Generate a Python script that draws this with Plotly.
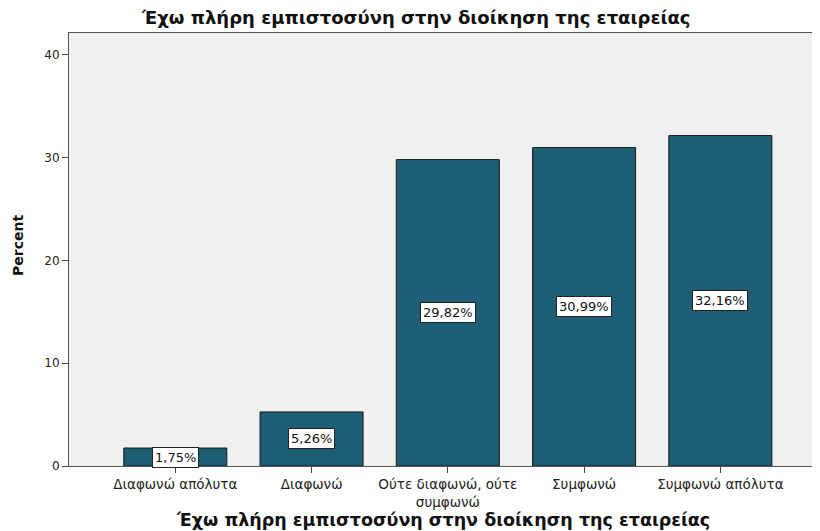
import plotly.graph_objects as go

categories = ["Διαφωνώ απόλυτα", "Διαφωνώ", "Ούτε διαφωνώ, ούτε<br>συμφωνώ", "Συμφωνώ", "Συμφωνώ απόλυτα"]
percents = [1.75, 5.26, 29.82, 30.99, 32.16]
labels = ["1,75%", "5,26%", "29,82%", "30,99%", "32,16%"]
y_ticks = [0, 10, 20, 30, 40]

TITLE = "Έχω πλήρη εμπιστοσύνη στην διοίκηση της εταιρείας"
BAR = "#1d5e75"
DV = "DejaVu Sans, Verdana"

# page body has an 8px margin, so everything is placed 8px up/left
OFF = 8
W, H = 820, 531
L, R, T, B = 69 - OFF, 0, 33 - OFF, 531 - 466 + OFF
pw, ph = W - L - R, H - T - B


def px_to_paper(x, y):
    return (x - OFF - L) / pw, (H - B - (y - OFF)) / ph


fig = go.Figure(
    go.Bar(
        x=list(range(len(categories))),
        y=percents,
        width=0.756,
        marker=dict(color=BAR, line=dict(color="#1a1a1a", width=1)),
        hoverinfo="skip",
    )
)

for i, (v, lab) in enumerate(zip(percents, labels)):
    fig.add_annotation(
        x=i, y=v / 2, text=lab, showarrow=False,
        font=dict(family=DV, size=13, color="#111"),
        bgcolor="white", bordercolor="#222", borderwidth=1, borderpad=2,
    )


def text_at(x, y, text, size, angle=0):
    px, py = px_to_paper(x, y)
    fig.add_annotation(
        x=px, y=py, xref="paper", yref="paper", xanchor="center", yanchor="middle",
        text=text, showarrow=False, textangle=angle,
        font=dict(family=DV, size=size, color="#111"),
    )


text_at(415, 18, "<b>" + TITLE + "</b>", 18)
text_at(443, 520, "<b>" + TITLE + "</b>", 17.5)
text_at(18, 246, "<b>Percent</b>", 14, angle=-90)

fig.update_layout(
    width=W, height=H,
    margin=dict(l=L, r=R, t=T, b=B),
    paper_bgcolor="white", plot_bgcolor="#f0f0f0",
    showlegend=False,
    font=dict(family=DV, color="#222"),
)

fig.update_xaxes(
    automargin=False,
    range=[-0.78, 4.79],
    tickvals=list(range(len(categories))), ticktext=categories,
    ticks="outside", ticklen=6, tickcolor="#444", tickfont=dict(family=DV, size=13.5, color="#222"),
    showline=True, linecolor="#555", linewidth=1, mirror=True, showgrid=False, zeroline=False,
)
fig.update_yaxes(
    automargin=False,
    range=[0, 42.14], tickvals=y_ticks,
    ticks="outside", ticklen=6, tickcolor="#444", tickfont=dict(family=DV, size=12, color="#222"),
    showline=True, linecolor="#555", linewidth=1, mirror=True, showgrid=False, zeroline=False,
)

fig.write_html("out.html")
